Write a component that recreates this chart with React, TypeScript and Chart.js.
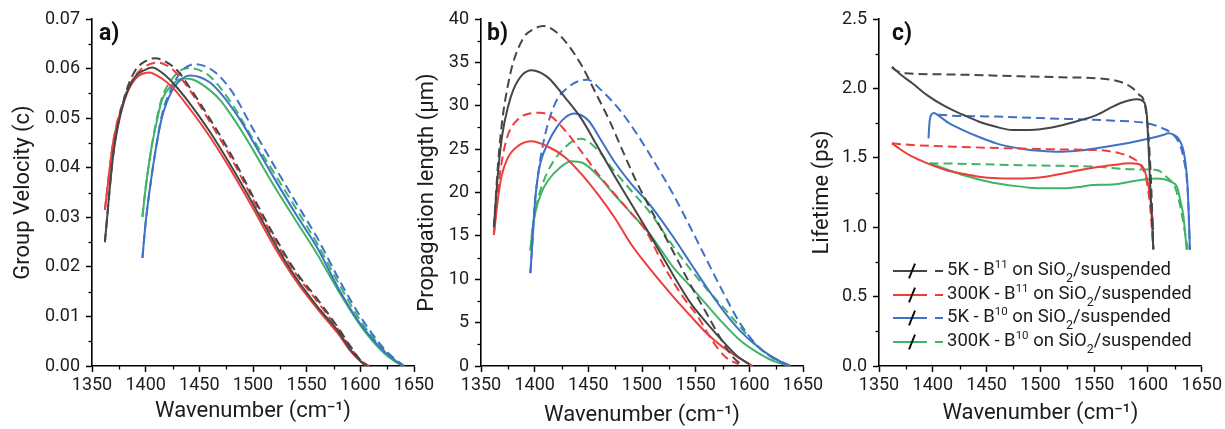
import React, { useEffect, useRef } from "react";
import { Chart, registerables } from "chart.js";

Chart.register(...registerables);

// ---------- Panel a) Group velocity (c) ----------
const gvBlackSolidX = [1362, 1370, 1380, 1390, 1400, 1406, 1415, 1425, 1440, 1460, 1480, 1500, 1520, 1540, 1560, 1580, 1590, 1600, 1605];
const gvBlackSolidY = [0.025, 0.043, 0.0535, 0.0583, 0.0598, 0.0602, 0.0592, 0.0572, 0.0533, 0.0472, 0.0402, 0.0327, 0.0248, 0.0178, 0.012, 0.0068, 0.0035, 0.001, 0];
const gvBlackDashX = [1362, 1370, 1380, 1390, 1400, 1409, 1420, 1430, 1440, 1460, 1480, 1500, 1520, 1540, 1560, 1580, 1590, 1600, 1606];
const gvBlackDashY = [0.025, 0.043, 0.054, 0.0595, 0.0615, 0.0621, 0.0612, 0.0595, 0.0565, 0.0498, 0.0425, 0.0342, 0.0262, 0.019, 0.0135, 0.0075, 0.0042, 0.0012, 0];
const gvRedSolidX = [1362, 1370, 1380, 1390, 1403, 1415, 1425, 1440, 1460, 1480, 1500, 1520, 1540, 1560, 1580, 1590, 1600, 1607];
const gvRedSolidY = [0.0315, 0.0455, 0.0535, 0.0578, 0.0592, 0.058, 0.0562, 0.0522, 0.0462, 0.0393, 0.0318, 0.024, 0.0172, 0.0115, 0.0063, 0.0032, 0.001, 0];
const gvRedDashX = [1362, 1370, 1380, 1390, 1400, 1412, 1420, 1430, 1440, 1460, 1480, 1500, 1520, 1540, 1560, 1580, 1590, 1600, 1608];
const gvRedDashY = [0.0315, 0.0455, 0.054, 0.0585, 0.0605, 0.0612, 0.0606, 0.0588, 0.056, 0.0492, 0.0418, 0.0336, 0.0256, 0.0186, 0.013, 0.0072, 0.004, 0.0012, 0];
const gvBlueSolidX = [1397, 1400, 1405, 1410, 1415, 1425, 1435, 1441, 1450, 1460, 1470, 1480, 1490, 1500, 1520, 1540, 1560, 1580, 1600, 1620, 1630, 1640];
const gvBlueSolidY = [0.0218, 0.029, 0.0375, 0.0445, 0.05, 0.0557, 0.0581, 0.0586, 0.0583, 0.0572, 0.055, 0.0522, 0.049, 0.0453, 0.0378, 0.0306, 0.0238, 0.0155, 0.0085, 0.0034, 0.0015, 0];
const gvBlueDashX = [1397, 1400, 1405, 1410, 1415, 1425, 1435, 1446, 1455, 1465, 1480, 1500, 1520, 1540, 1560, 1580, 1600, 1620, 1630, 1641];
const gvBlueDashY = [0.0218, 0.029, 0.0375, 0.0445, 0.0505, 0.0565, 0.0598, 0.0609, 0.0605, 0.0592, 0.0555, 0.0478, 0.0403, 0.033, 0.0258, 0.0175, 0.01, 0.004, 0.0018, 0];
const gvGreenSolidX = [1397, 1400, 1405, 1410, 1415, 1425, 1435, 1445, 1460, 1470, 1480, 1490, 1500, 1520, 1540, 1560, 1580, 1600, 1620, 1630, 1640];
const gvGreenSolidY = [0.0301, 0.036, 0.0435, 0.049, 0.0535, 0.0568, 0.058, 0.0577, 0.0556, 0.0535, 0.0505, 0.0472, 0.0436, 0.0362, 0.0293, 0.0225, 0.015, 0.0082, 0.003, 0.0012, 0];
const gvGreenDashX = [1397, 1400, 1405, 1410, 1415, 1425, 1433, 1440, 1450, 1460, 1480, 1500, 1520, 1540, 1560, 1580, 1600, 1620, 1630, 1640];
const gvGreenDashY = [0.0301, 0.036, 0.0435, 0.0495, 0.054, 0.058, 0.0597, 0.0601, 0.0597, 0.0584, 0.053, 0.0458, 0.0388, 0.0318, 0.0246, 0.0166, 0.0092, 0.0036, 0.0015, 0];

// ---------- Panel b) Propagation length (µm) ----------
const plBlackSolidX = [1362, 1366, 1370, 1375, 1380, 1388, 1397, 1412, 1428, 1443, 1460, 1474, 1490, 1508, 1529, 1545, 1560, 1575, 1590, 1600];
const plBlackSolidY = [16.0, 22.5, 26.8, 29.8, 31.8, 33.5, 34.1, 33.3, 31.0, 28.6, 25.0, 22.0, 18.7, 15.0, 10.5, 7.3, 5.0, 2.9, 1.0, 0.2];
const plBlackDashX = [1362, 1366, 1370, 1375, 1380, 1390, 1400, 1408, 1420, 1430, 1443, 1458, 1470, 1482, 1495, 1505, 1517, 1529, 1545, 1560, 1575, 1585, 1592];
const plBlackDashY = [16.0, 23.5, 28.5, 32.3, 35.0, 37.9, 38.9, 39.2, 38.5, 37.2, 34.8, 31.2, 28.2, 24.8, 21.2, 18.8, 16.0, 13.2, 9.4, 6.1, 2.8, 1.0, 0.2];
const plRedSolidX = [1362, 1365, 1369, 1375, 1385, 1397, 1412, 1428, 1443, 1460, 1475, 1490, 1508, 1529, 1545, 1560, 1575, 1591, 1603];
const plRedSolidY = [15.1, 18.5, 21.8, 24.0, 25.4, 25.9, 25.3, 24.1, 22.2, 19.6, 17.0, 14.0, 11.1, 8.0, 5.8, 3.8, 2.2, 0.9, 0];
const plRedDashX = [1362, 1365, 1370, 1375, 1385, 1395, 1405, 1415, 1428, 1443, 1458, 1474, 1490, 1503, 1521, 1538, 1552, 1565, 1578, 1590];
const plRedDashY = [15.1, 19.5, 24.0, 26.6, 28.5, 29.1, 29.2, 28.8, 27.2, 24.8, 22.3, 19.9, 17.6, 15.7, 11.4, 8.0, 5.7, 3.0, 1.0, 0.2];
const plBlueSolidX = [1396, 1398, 1400, 1404, 1412, 1421, 1429, 1437, 1450, 1462, 1474, 1490, 1508, 1529, 1545, 1560, 1575, 1591, 1607, 1622, 1638];
const plBlueSolidY = [10.7, 14.5, 18.5, 22.6, 25.6, 27.6, 28.7, 29.1, 28.3, 26.0, 23.6, 21.0, 18.5, 14.9, 11.9, 9.1, 6.5, 4.1, 2.3, 1.0, 0];
const plBlueDashX = [1396, 1398, 1400, 1404, 1410, 1420, 1430, 1440, 1449, 1462, 1480, 1496, 1514, 1529, 1545, 1560, 1576, 1591, 1607, 1622, 1638];
const plBlueDashY = [10.7, 14.5, 18.5, 22.8, 26.8, 30.5, 32.0, 32.8, 33.0, 31.8, 29.4, 26.6, 23.0, 19.8, 16.0, 12.3, 8.4, 5.0, 2.4, 0.9, 0];
const plGreenSolidX = [1396, 1398, 1401, 1406, 1412, 1424, 1434, 1445, 1460, 1474, 1490, 1508, 1529, 1545, 1560, 1575, 1591, 1607, 1622, 1638];
const plGreenSolidY = [13.3, 15.8, 17.9, 19.9, 21.3, 22.9, 23.6, 23.4, 21.8, 19.8, 17.6, 15.1, 11.4, 9.2, 7.1, 5.0, 3.0, 1.6, 0.6, 0];
const plGreenDashX = [1396, 1398, 1402, 1408, 1417, 1426, 1435, 1443, 1458, 1474, 1490, 1508, 1529, 1548, 1563, 1579, 1595, 1610, 1625, 1638];
const plGreenDashY = [13.3, 15.8, 18.7, 21.2, 23.5, 24.9, 25.9, 26.2, 25.0, 22.5, 20.2, 17.6, 13.8, 10.7, 8.5, 6.3, 4.0, 2.0, 0.8, 0];

// ---------- Panel c) Lifetime (ps) ----------
const ltBlackSolidX = [1362, 1370, 1381, 1395, 1412, 1428, 1443, 1458, 1474, 1490, 1500, 1521, 1537, 1552, 1565, 1574, 1583, 1590, 1596, 1599, 1602, 1605];
const ltBlackSolidY = [2.156, 2.1, 2.037, 1.95, 1.868, 1.81, 1.76, 1.725, 1.7, 1.7, 1.705, 1.736, 1.77, 1.808, 1.86, 1.893, 1.915, 1.921, 1.904, 1.8, 1.316, 0.84];
const ltBlackDashX = [1362, 1368, 1375, 1420, 1474, 1520, 1552, 1574, 1586, 1592, 1596, 1600, 1603, 1605];
const ltBlackDashY = [2.15, 2.12, 2.109, 2.1, 2.089, 2.08, 2.073, 2.048, 2.0, 1.952, 1.917, 1.7, 1.3, 0.84];
const ltRedSolidX = [1362, 1370, 1381, 1395, 1412, 1428, 1443, 1460, 1474, 1490, 1505, 1520, 1537, 1552, 1568, 1583, 1591, 1596, 1600, 1603, 1605];
const ltRedSolidY = [1.604, 1.56, 1.508, 1.46, 1.412, 1.385, 1.364, 1.352, 1.35, 1.352, 1.364, 1.385, 1.412, 1.432, 1.448, 1.46, 1.455, 1.424, 1.316, 1.15, 0.98];
const ltRedDashX = [1362, 1381, 1420, 1474, 1520, 1552, 1574, 1586, 1593, 1598, 1602, 1605];
const ltRedDashY = [1.604, 1.592, 1.58, 1.568, 1.56, 1.556, 1.532, 1.496, 1.45, 1.36, 1.15, 0.84];
const ltBlueSolidX = [1396, 1397, 1399, 1401, 1406, 1415, 1428, 1443, 1459, 1475, 1490, 1505, 1521, 1537, 1552, 1568, 1583, 1599, 1614, 1619, 1624, 1629, 1634, 1637, 1639];
const ltBlueSolidY = [1.64, 1.76, 1.815, 1.823, 1.8, 1.75, 1.7, 1.65, 1.604, 1.575, 1.556, 1.548, 1.544, 1.552, 1.568, 1.588, 1.609, 1.635, 1.664, 1.676, 1.665, 1.63, 1.508, 1.268, 0.836];
const ltBlueDashX = [1405, 1409, 1460, 1505, 1568, 1599, 1614, 1622, 1628, 1633, 1637, 1639];
const ltBlueDashY = [1.812, 1.808, 1.797, 1.785, 1.767, 1.749, 1.712, 1.676, 1.62, 1.5, 1.25, 0.84];
const ltGreenSolidX = [1397, 1412, 1428, 1443, 1459, 1475, 1490, 1505, 1521, 1537, 1549, 1560, 1572, 1583, 1599, 1608, 1615, 1621, 1627, 1630, 1633, 1636];
const ltGreenSolidY = [1.46, 1.42, 1.376, 1.344, 1.316, 1.298, 1.285, 1.28, 1.28, 1.29, 1.304, 1.306, 1.312, 1.328, 1.345, 1.35, 1.345, 1.328, 1.29, 1.196, 1.076, 0.836];
const ltGreenDashX = [1397, 1420, 1474, 1520, 1552, 1586, 1608, 1617, 1625, 1630, 1634, 1637];
const ltGreenDashY = [1.46, 1.458, 1.448, 1.442, 1.436, 1.417, 1.412, 1.364, 1.29, 1.15, 0.98, 0.84];

// ---------- Labels ----------
const xAxisTitle = "Wavenumber (cm⁻¹)";
const panelLetters = ["a)", "b)", "c)"];
const yTitles = ["Group Velocity (c)", "Propagation length (μm)", "Lifetime (ps)"];
const legendTemps = ["5K", "300K", "5K", "300K"];
const legendIsotopes = ["11", "11", "10", "10"];

const GRAY = "#464646";
const RED = "#ee3e3b";
const BLUE = "#3f72c6";
const GREEN = "#3db565";
const legendColors = [GRAY, RED, BLUE, GREEN];
const FONT = "Roboto, 'Noto Sans', sans-serif";
const TEXT = "#1c1c1c";

type Pair = [number[], number[], string, boolean];

const panelSeries: Pair[][] = [
  [
    [gvBlackSolidX, gvBlackSolidY, GRAY, false],
    [gvBlackDashX, gvBlackDashY, GRAY, true],
    [gvRedSolidX, gvRedSolidY, RED, false],
    [gvRedDashX, gvRedDashY, RED, true],
    [gvBlueSolidX, gvBlueSolidY, BLUE, false],
    [gvBlueDashX, gvBlueDashY, BLUE, true],
    [gvGreenSolidX, gvGreenSolidY, GREEN, false],
    [gvGreenDashX, gvGreenDashY, GREEN, true],
  ],
  [
    [plBlackSolidX, plBlackSolidY, GRAY, false],
    [plBlackDashX, plBlackDashY, GRAY, true],
    [plRedSolidX, plRedSolidY, RED, false],
    [plRedDashX, plRedDashY, RED, true],
    [plBlueSolidX, plBlueSolidY, BLUE, false],
    [plBlueDashX, plBlueDashY, BLUE, true],
    [plGreenSolidX, plGreenSolidY, GREEN, false],
    [plGreenDashX, plGreenDashY, GREEN, true],
  ],
  [
    [ltBlackSolidX, ltBlackSolidY, GRAY, false],
    [ltBlackDashX, ltBlackDashY, GRAY, true],
    [ltRedSolidX, ltRedSolidY, RED, false],
    [ltRedDashX, ltRedDashY, RED, true],
    [ltBlueSolidX, ltBlueSolidY, BLUE, false],
    [ltBlueDashX, ltBlueDashY, BLUE, true],
    [ltGreenSolidX, ltGreenSolidY, GREEN, false],
    [ltGreenDashX, ltGreenDashY, GREEN, true],
  ],
];

type PanelCfg = {
  left: number;
  width: number;
  areaLeft: number;
  areaRight: number;
  yMax: number;
  yStep: number;
  decimals: number;
  yTitlePad: number;
  xTitlePad: number;
  letterLeft: number;
};

const panels: PanelCfg[] = [
  { left: 0, width: 440, areaLeft: 92, areaRight: 414, yMax: 0.07, yStep: 0.01, decimals: 2, yTitlePad: 10, xTitlePad: 4, letterLeft: 99 },
  { left: 400, width: 440, areaLeft: 81, areaRight: 403, yMax: 40, yStep: 5, decimals: 0, yTitlePad: 14, xTitlePad: 0, letterLeft: 487 },
  { left: 800, width: 425, areaLeft: 79, areaRight: 402, yMax: 2.5, yStep: 0.5, decimals: 1, yTitlePad: 9, xTitlePad: 2, letterLeft: 892 },
];

const minorTicksPlugin = {
  id: "minorTicks",
  afterDraw(chart: any, _args: any, opts: any) {
    const ctx = chart.ctx;
    const xs = chart.scales.x;
    const ys = chart.scales.y;
    ctx.save();
    ctx.strokeStyle = "#000";
    ctx.lineWidth = 1.3;
    const len = 3.5;
    const nx = Math.round((xs.max - xs.min) / opts.xMinor);
    for (let i = 1; i < nx; i += 2) {
      const px = Math.round(xs.getPixelForValue(xs.min + i * opts.xMinor)) + 0.5;
      ctx.beginPath();
      ctx.moveTo(px, ys.bottom);
      ctx.lineTo(px, ys.bottom + len);
      ctx.stroke();
    }
    const ny = Math.round((ys.max - ys.min) / opts.yMinor);
    for (let i = 1; i < ny; i += 2) {
      const py = Math.round(ys.getPixelForValue(ys.min + i * opts.yMinor)) + 0.5;
      ctx.beginPath();
      ctx.moveTo(xs.left, py);
      ctx.lineTo(xs.left - len, py);
      ctx.stroke();
    }
    ctx.restore();
  },
};

function Panel({ idx }: { idx: number }) {
  const ref = useRef<HTMLCanvasElement | null>(null);
  const cfg = panels[idx];
  useEffect(() => {
    if (!ref.current) return;
    const datasets = panelSeries[idx].map(([xs, ys, color, dashed]) => ({
      data: xs.map((x, i) => ({ x, y: ys[i] })),
      borderColor: color,
      backgroundColor: color,
      borderWidth: 2,
      borderDash: dashed ? [9, 5] : [],
      pointRadius: 0,
      cubicInterpolationMode: "monotone" as const,
      fill: false,
    }));
    const chart = new Chart(ref.current, {
      type: "line",
      data: { datasets },
      plugins: [minorTicksPlugin],
      options: {
        responsive: false,
        animation: false,
        events: [],
        layout: { padding: { left: 0, top: 19, right: cfg.width - cfg.areaRight, bottom: 0 } },
        plugins: {
          legend: { display: false },
          tooltip: { enabled: false },
          minorTicks: { xMinor: 25, yMinor: cfg.yStep / 2 },
        } as any,
        scales: {
          x: {
            type: "linear",
            min: 1350,
            max: 1650,
            afterFit: (s: any) => {
              s.height = 63;
            },
            ticks: {
              stepSize: 50,
              autoSkip: false,
              maxRotation: 0,
              padding: 3,
              color: TEXT,
              font: { family: FONT, size: 18 },
              callback: (v: any) => String(Math.round(Number(v))),
            },
            grid: { display: true, drawOnChartArea: false, drawTicks: true, tickLength: 6, tickColor: "#000", tickWidth: 1.5 },
            border: { display: true, color: "#000", width: 1.6 },
            title: {
              display: true,
              text: xAxisTitle,
              color: TEXT,
              font: { family: FONT, size: 22 },
              padding: { top: 0, bottom: cfg.xTitlePad },
            },
          },
          y: {
            type: "linear",
            min: 0,
            max: cfg.yMax,
            afterFit: (s: any) => {
              s.width = cfg.areaLeft;
            },
            ticks: {
              stepSize: cfg.yStep,
              autoSkip: false,
              padding: 6,
              color: TEXT,
              font: { family: FONT, size: 18 },
              callback: (v: any) => Number(v).toFixed(cfg.decimals),
            },
            grid: { display: true, drawOnChartArea: false, drawTicks: true, tickLength: 6, tickColor: "#000", tickWidth: 1.5 },
            border: { display: true, color: "#000", width: 1.6 },
            title: {
              display: true,
              text: yTitles[idx],
              color: TEXT,
              font: { family: FONT, size: 22 },
              padding: { top: cfg.yTitlePad, bottom: 0 },
            },
          },
        },
      },
    });
    return () => chart.destroy();
  }, [idx]);
  return (
    <canvas
      ref={ref}
      width={cfg.width}
      height={429}
      style={{ position: "absolute", left: cfg.left, top: 0, width: cfg.width, height: 429 }}
    />
  );
}

function Legend() {
  return (
    <div style={{ position: "absolute", left: 890, top: 258, fontFamily: FONT, fontSize: 18.5, color: TEXT }}>
      {legendTemps.map((t, i) => (
        <div key={i} style={{ position: "relative", height: 23.7, width: 330 }}>
          <span style={{ position: "absolute", left: 3, top: 12, width: 34, height: 2, background: legendColors[i] }} />
          <span
            style={{
              position: "absolute",
              left: 21,
              top: 5,
              width: 2,
              height: 16,
              background: "#111",
              transform: "rotate(22deg)",
            }}
          />
          <span style={{ position: "absolute", left: 45, top: 12, width: 8, height: 2, background: legendColors[i] }} />
          <span style={{ position: "absolute", left: 57, top: 0, lineHeight: "23.7px", whiteSpace: "nowrap" }}>
            {t} - B
            <span style={{ fontSize: 11.5, position: "relative", top: -7, verticalAlign: "baseline" }}>{legendIsotopes[i]}</span>
            {" on SiO"}
            <span style={{ fontSize: 12.5, position: "relative", top: 7, verticalAlign: "baseline" }}>2</span>
            /suspended
          </span>
        </div>
      ))}
    </div>
  );
}

export default function App() {
  return (
    <div style={{ position: "absolute", left: 0, top: 0, width: 1225, height: 429, background: "#fff", overflow: "hidden" }}>
      {panels.map((p, i) => (
        <Panel key={i} idx={i} />
      ))}
      {panels.map((p, i) => (
        <div
          key={"l" + i}
          style={{
            position: "absolute",
            left: p.letterLeft,
            top: 21,
            fontFamily: FONT,
            fontWeight: 700,
            fontSize: 23,
            lineHeight: "23px",
            color: "#111",
          }}
        >
          {panelLetters[i]}
        </div>
      ))}
      <Legend />
    </div>
  );
}
